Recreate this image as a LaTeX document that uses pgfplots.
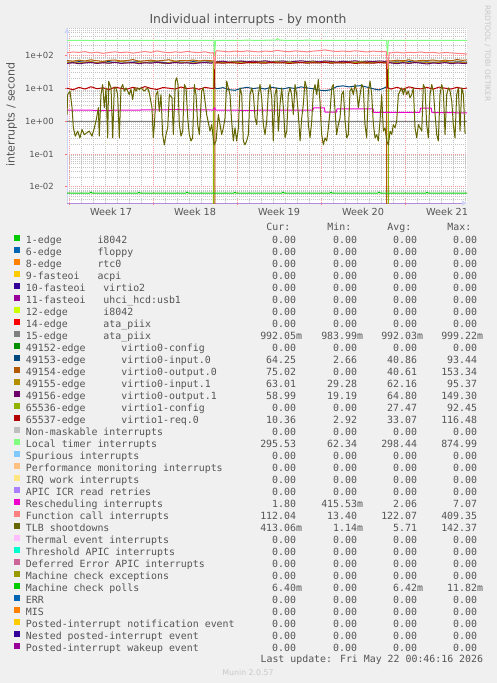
\documentclass[border=0pt]{standalone}
\usepackage{fontspec}
\setmainfont{DejaVu Sans}
\newfontfamily\monofont{DejaVu Sans Mono}
\usepackage{pgfplots}
\pgfplotsset{compat=1.18}
\usetikzlibrary{arrows.meta}
\definecolor{bgc}{HTML}{F0F0F0}
\definecolor{fontc}{HTML}{555555}
\definecolor{lightc}{HTML}{C8C8C8}
\definecolor{arrowc}{HTML}{CFD6F8}
\definecolor{axlin}{HTML}{B48CDC}
\definecolor{mgridc}{HTML}{FF9A9A}
\definecolor{gridc}{HTML}{C4C4C4}
\definecolor{tickc}{HTML}{FF7070}
\definecolor{c00}{HTML}{00CC00}
\definecolor{c01}{HTML}{0066B3}
\definecolor{c02}{HTML}{FF8000}
\definecolor{c03}{HTML}{FFCC00}
\definecolor{c04}{HTML}{330099}
\definecolor{c05}{HTML}{990099}
\definecolor{c06}{HTML}{CCFF00}
\definecolor{c07}{HTML}{FF0000}
\definecolor{c08}{HTML}{808080}
\definecolor{c09}{HTML}{008F00}
\definecolor{c10}{HTML}{00487D}
\definecolor{c11}{HTML}{B35A00}
\definecolor{c12}{HTML}{B38F00}
\definecolor{c13}{HTML}{6B006B}
\definecolor{c14}{HTML}{8FB300}
\definecolor{c15}{HTML}{B30000}
\definecolor{c16}{HTML}{BEBEBE}
\definecolor{c17}{HTML}{80FF80}
\definecolor{c18}{HTML}{80C9FF}
\definecolor{c19}{HTML}{FFC080}
\definecolor{c20}{HTML}{FFE680}
\definecolor{c21}{HTML}{AA80FF}
\definecolor{c22}{HTML}{EE00CC}
\definecolor{c23}{HTML}{FF8080}
\definecolor{c24}{HTML}{666600}
\definecolor{c25}{HTML}{FFBFFF}
\definecolor{c26}{HTML}{00FFCC}
\definecolor{c27}{HTML}{CC6699}
\definecolor{c28}{HTML}{999900}
\newcommand{\legfont}{\monofont\fontsize{9.9bp}{12bp}\selectfont}
\newcommand{\NS}{\hphantom{m}}
\newcommand{\Z}{0.00\NS}
\newcommand{\lrow}[5]{\makebox[200bp][l]{#1}\makebox[76bp][r]{#2}\makebox[61bp][r]{#3}\makebox[60bp][r]{#4}\makebox[60bp][r]{#5}}
\newcommand{\zrow}[1]{\lrow{#1}{\Z}{\Z}{\Z}{\Z}}
\begin{document}
\begin{tikzpicture}
\fill[bgc] (0bp,0bp) rectangle (497bp,683bp);
\node[anchor=base, font=\fontsize{12.4bp}{14bp}\selectfont, text=fontc, inner sep=0pt] at (248bp,659bp) {Individual interrupts - by month};
\node[rotate=90, font=\fontsize{11bp}{13bp}\selectfont, text=fontc, inner sep=0pt] at (11.5bp,568.5bp) {interrupts / second};
\node[rotate=-90, font=\fontsize{7.5bp}{9bp}\selectfont, text=lightc, inner sep=0pt] at (487.5bp,629.6bp) {RRDTOOL / TOBI OETIKER};
\begin{axis}[
  at={(67bp,480bp)}, anchor=south west,
  scale only axis, width=400bp, height=175bp,
  xmin=0, xmax=33.33, ymode=log, ymin=0.0032, ymax=700,
  axis lines=left,
  x axis line style={draw=axlin, line width=1bp, -{Triangle[length=5bp,width=5bp,color=arrowc]}},
  y axis line style={draw=arrowc, line width=1bp, -{Triangle[length=5bp,width=5bp]}},
  axis background/.style={fill=white},
  xtick={0.17,7.17,14.17,21.17,28.17}, xticklabels={,,,,},
  minor xtick={1.17,2.17,...,33.17},
  extra x ticks={3.67,10.67,17.67,24.67,31.67},
  extra x tick labels={Week 17,Week 18,Week 19,Week 20,Week 21},
  extra x tick style={grid=none, major tick length=0pt},
  ytick={0.01,0.1,1,10,100}, yticklabels={1e-02,1e-01,1e+00,1e+01,1e+02},
  minor ytick={0.004,0.005,0.006,0.007,0.008,0.009,0.02,0.03,0.04,0.05,0.06,0.07,0.08,0.09,0.2,0.3,0.4,0.5,0.6,0.7,0.8,0.9,2,3,4,5,6,7,8,9,20,30,40,50,60,70,80,90,200,300,400,500,600,700},
  grid=both,
  major grid style={dash pattern=on 1bp off 1bp, color=mgridc, line width=0.8bp},
  minor grid style={dash pattern=on 1bp off 1bp, color=gridc, line width=0.8bp},
  major tick length=2bp, minor tick length=0pt, tick align=outside,
  tick style={color=tickc, line width=0.8bp},
  tick label style={text=fontc, inner sep=0pt},
  xticklabel style={font=\fontsize{9.7bp}{11bp}\selectfont, anchor=base, yshift=-12.5bp},
  yticklabel style={font=\fontsize{8.5bp}{10bp}\selectfont, anchor=east, xshift=-11bp},
  no markers,
  every axis plot/.append style={line width=1bp, line join=round},
  legend image code/.code={\fill[#1,draw=none] (0bp,0bp) rectangle (6bp,6bp);},
  legend cell align=left,
  legend style={at={(0,0)}, anchor=north west, xshift=-53bp, yshift=-32.3bp,
    draw=none, fill=none, inner sep=0pt, outer sep=0pt, row sep=0pt,
    font=\legfont, text=fontc,
    /tikz/every odd column/.append style={column sep=6bp},
    nodes={inner sep=0pt, outer sep=0pt, text height=8bp, text depth=4bp}},
]
\addlegendimage{color=c00}\addlegendentry{\zrow{1-edge~~~~~~i8042}}
\addlegendimage{color=c01}\addlegendentry{\zrow{6-edge~~~~~~floppy}}
\addlegendimage{color=c02}\addlegendentry{\zrow{8-edge~~~~~~rtc0}}
\addlegendimage{color=c03}\addlegendentry{\zrow{9-fasteoi~~~acpi}}
\addlegendimage{color=c04}\addlegendentry{\zrow{10-fasteoi~~~virtio2}}
\addlegendimage{color=c05}\addlegendentry{\zrow{11-fasteoi~~~uhci\_hcd:usb1}}
\addlegendimage{color=c06}\addlegendentry{\zrow{12-edge~~~~~~i8042}}
\addlegendimage{color=c07}\addlegendentry{\zrow{14-edge~~~~~~ata\_piix}}
% 15-edge
\addplot[color=c08] coordinates {(0,0.992) (8,0.990) (16,0.993) (24,0.991) (33.33,0.992)};
\addlegendentry{\lrow{15-edge~~~~~~ata\_piix}{992.05m}{983.99m}{992.03m}{999.22m}}
\addlegendimage{color=c09}\addlegendentry{\zrow{49152-edge~~~~~~virtio0-config}}
% 49153 virtio0-input.0
\addplot[color=c10] coordinates {
(0,64) (0.5,62) (1,66) (1.5,63) (2,65) (2.5,61) (3,64) (3.5,66) (4,62) (4.5,65) (5,63) (5.5,64) (6,66) (6.5,62) (7,64) (7.5,65) (8,63) (8.5,61) (9,65) (9.5,64) (10,62) (10.5,66) (11,63) (11.5,64) (12,65) (12.25,64)
(12.3,10.5) (12.5,9.8) (13,10.6) (13.5,9.2) (14,8.8) (14.5,10.1) (15,10.8) (15.5,9.9) (16,10.5) (16.5,9.6) (17,10.9) (17.5,10.2) (18,9.7) (18.5,10.6) (19,10.0) (19.5,11.2) (20,10.4) (20.5,9.8) (21,8.9) (21.5,8.6) (22,9.2) (22.5,11.5) (23,12.0) (23.5,11.2) (24,11.8) (24.5,12.2) (25,11.0) (25.5,9.8) (26,9.0) (26.5,10.6) (26.65,11.5)
(26.72,64) (27,63) (27.5,65) (28,62) (28.5,66) (29,64) (29.5,63) (30,65) (30.5,62) (31,64) (31.5,66) (32,63) (32.5,65) (33,64) (33.33,64.25)};
\addlegendentry{\lrow{49153-edge~~~~~~virtio0-input.0}{64.25\NS}{2.66\NS}{40.86\NS}{93.44\NS}}
% 49154 virtio0-output.0
\addplot[color=c11] coordinates {
(0,71) (0.5,68) (1,73) (1.5,69) (2,75) (2.5,70) (3,67) (3.5,72) (4,74) (4.5,69) (5,71) (5.5,76) (6,68) (6.5,70) (7,73) (7.5,69) (8,72) (8.5,75) (9,68) (9.5,71) (10,70) (10.5,74) (11,69) (11.5,72) (12,70) (12.33,70)
(12.33,0.0001) (26.64,0.0001)
(26.64,72) (27,69) (27.5,73) (28,70) (28.5,75) (29,68) (29.5,72) (30,71) (30.5,74) (31,69) (31.5,73) (32,70) (32.5,76) (33,72) (33.33,75)};
\addlegendentry{\lrow{49154-edge~~~~~~virtio0-output.0}{75.02\NS}{\Z}{40.61\NS}{153.34\NS}}
% 49155 virtio0-input.1
\addplot[color=c12] coordinates {
(0,62) (0.5,65) (1,60) (1.5,63) (2,66) (2.5,61) (3,64) (3.5,59) (4,63) (4.5,67) (5,62) (5.5,60) (6,64) (6.5,61) (7,65) (7.5,63) (8,58) (8.5,62) (9,66) (9.5,61) (10,63) (10.5,60) (11,64) (11.5,62) (12,65)
(12.5,61) (13,64) (13.5,60) (14,63) (14.5,66) (15,62) (15.5,59) (16,63) (16.5,65) (17,61) (17.5,64) (18,62) (18.5,60) (19,65) (19.5,63) (20,61) (20.5,64) (21,62) (21.5,66) (22,60) (22.5,63) (23,65) (23.5,61) (24,64) (24.5,62) (25,59) (25.5,63) (26,65) (26.5,61)
(27,64) (27.5,62) (28,66) (28.5,60) (29,63) (29.5,65) (30,61) (30.5,64) (31,62) (31.5,67) (32,60) (32.5,64) (33,62) (33.33,63)};
\addlegendentry{\lrow{49155-edge~~~~~~virtio0-input.1}{63.01\NS}{29.28\NS}{62.16\NS}{95.37\NS}}
% 49156 virtio0-output.1
\addplot[color=c13] coordinates {
(0,58) (0.5,61) (1,57) (1.5,60) (2,62) (2.5,58) (3,61) (3.5,59) (4,63) (4.5,58) (5,60) (5.5,62) (6,57) (6.5,61) (7,59) (7.5,63) (8,60) (8.5,58) (9,62) (9.5,59) (10,61) (10.5,57) (11,60) (11.5,62) (12,59)
(12.5,66) (13,68) (13.5,64) (14,67) (14.5,69) (15,65) (15.5,68) (16,66) (16.5,70) (17,65) (17.5,67) (18,69) (18.5,64) (19,67) (19.5,70) (20,66) (20.5,68) (21,65) (21.5,69) (22,67) (22.5,64) (23,68) (23.5,66) (24,70) (24.5,65) (25,68) (25.5,66) (26,69) (26.5,67)
(27,60) (27.5,57) (28,61) (28.5,58) (29,62) (29.5,59) (30,56) (30.5,60) (31,58) (31.5,62) (32,57) (32.5,60) (33,58) (33.33,59)};
\addlegendentry{\lrow{49156-edge~~~~~~virtio0-output.1}{58.99\NS}{19.19\NS}{64.80\NS}{149.30\NS}}
% 65536 virtio1-config
\addplot[color=c14] coordinates {
(12.19,0.0001) (12.19,62) (12.5,64) (13,61) (13.5,63) (14,65) (14.5,60) (15,63) (15.5,62) (16,64) (16.5,61) (17,63) (17.5,65) (18,62) (18.5,64) (19,61) (19.5,63) (20,62) (20.5,65) (21,61) (21.5,64) (22,62) (22.5,63) (23,60) (23.5,64) (24,62) (24.5,65) (25,63) (25.5,61) (26,64) (26.5,62) (26.78,63) (26.78,0.0001)};
\addlegendentry{\lrow{65536-edge~~~~~~virtio1-config}{\Z}{\Z}{27.47\NS}{92.45\NS}}
% 65537 virtio1-req.0
\addplot[color=c15] coordinates {
(0,10.2) (0.5,9.1) (1,10.8) (1.5,9.6) (2,11.3) (2.5,9.8) (3,10.5) (3.5,9.2) (4,11.0) (4.5,10.1) (5,9.5) (5.5,10.9) (6,9.8) (6.5,11.4) (7,10.0) (7.5,9.3) (8,10.7) (8.5,10.2) (9,9.6) (9.5,11.1) (10,9.9) (10.5,10.4) (11,9.4) (11.5,10.8) (12,10.1) (12.25,10.0)
(12.3,60) (12.5,61) (13,59) (13.5,62) (14,60) (14.5,58) (15,61) (15.5,63) (16,60) (16.5,59) (17,62) (17.5,60) (18,61) (18.5,58) (19,60) (19.5,62) (20,59) (20.5,61) (21,60) (21.5,63) (22,59) (22.5,61) (23,60) (23.5,62) (24,58) (24.5,60) (25,61) (25.5,59) (26,62) (26.5,60) (26.65,60)
(26.72,10.5) (27,9.6) (27.5,10.9) (28,9.4) (28.5,11.2) (29,10.1) (29.5,9.7) (30,10.8) (30.5,9.5) (31,11.0) (31.5,10.2) (32,9.6) (32.5,10.9) (33,9.8) (33.33,10.36)};
\addlegendentry{\lrow{65537-edge~~~~~~virtio1-req.0}{10.36\NS}{2.92\NS}{33.07\NS}{116.48\NS}}
\addlegendimage{color=c16}\addlegendentry{\zrow{Non-maskable interrupts}}
% Local timer
\addplot[color=c17] coordinates {
(0,292) (1,294) (2,290) (3,293) (4,291) (5,295) (6,292) (7,294) (8,290) (9,293) (10,291) (11,294) (12,292) (12.25,292) (12.3,100) (12.38,290) (13,296) (14,293) (15,297) (16,294) (17,298) (17.4,300) (17.55,335) (17.7,300) (18,296) (19,293) (20,297) (21,294) (22,296) (23,293) (24,295) (25,292) (26,294) (26.62,293) (26.7,110) (26.78,291) (27,295) (28,292) (29,296) (30,293) (31,295) (32,292) (33,296) (33.33,295.5)};
\addlegendentry{\lrow{Local timer interrupts}{295.53\NS}{62.34\NS}{298.44\NS}{874.99\NS}}
\addlegendimage{color=c18}\addlegendentry{\zrow{Spurious interrupts}}
\addlegendimage{color=c19}\addlegendentry{\zrow{Performance monitoring interrupts}}
\addlegendimage{color=c20}\addlegendentry{\zrow{IRQ work interrupts}}
\addlegendimage{color=c21}\addlegendentry{\zrow{APIC ICR read retries}}
% Rescheduling
\addplot[color=c22] coordinates {
(0,2.2) (3,2.15) (6,2.2) (9,2.25) (12.2,2.2) (12.3,2.6) (12.4,2.2) (15,2.15) (18,2.2) (20.5,2.2) (20.55,2.55) (21.45,2.55) (21.5,1.9) (22.45,1.9) (22.5,2.4) (25.5,2.4) (25.55,1.88) (29.4,1.88) (29.45,2.5) (30.35,2.5) (30.4,1.85) (33.33,1.8)};
\addlegendentry{\lrow{Rescheduling interrupts}{1.80\NS}{415.53m}{2.06\NS}{7.07\NS}}
% Function call
\addplot[color=c23] coordinates {
(0,123) (0.5,130) (1,126) (1.5,133) (2,121) (2.5,128) (3,118) (3.5,125) (4,131) (4.5,124) (5,129) (5.5,120) (6,127) (6.5,134) (7,126) (7.5,140) (8,129) (8.5,123) (9,131) (9.5,126) (10,135) (10.5,128) (11,124) (11.5,132) (12,120) (12.2,125) (12.3,40) (12.4,135)
(12.5,142) (13,136) (13.5,131) (14,138) (14.5,133) (15,140) (15.5,135) (16,130) (16.5,139) (17,134) (17.5,145) (18,137) (18.5,132) (19,140) (19.5,136) (20,131) (20.5,138) (21,142) (21.5,150) (22,140) (22.5,134) (23,139) (23.5,133) (24,141) (24.5,136) (25,130) (25.5,138) (26,134) (26.6,132) (26.72,40) (26.85,125)
(27,122) (27.5,128) (28,121) (28.5,127) (29,124) (29.5,130) (30,123) (30.5,126) (31,120) (31.5,125) (32,122) (32.5,118) (33,115) (33.33,112)};
\addlegendentry{\lrow{Function call interrupts}{112.04\NS}{13.40\NS}{122.07\NS}{409.35\NS}}
% TLB shootdowns
\addplot[color=c24] coordinates {
(0,1.6) (0.06,6.5) (0.25,8.3) (0.42,2.6) (0.53,0.63) (0.69,0.35) (0.89,0.50) (1.08,0.31) (1.25,0.56) (1.44,0.39) (1.64,0.44) (1.86,0.50) (2.08,0.35) (2.28,0.63) (2.47,1.27) (2.61,2.6) (2.69,0.35) (2.83,6.5) (2.97,13.2) (3.11,2.6) (3.25,10.4) (3.39,0.31) (3.47,16.7) (3.67,10.4) (3.81,0.31) (3.94,10.4) (4.08,10.4) (4.22,6.5) (4.36,0.31) (4.50,10.4) (4.64,13.2) (4.78,8.3) (4.92,10.4) (5.06,8.3) (5.19,6.5) (5.33,9.3) (5.47,4.6) (5.61,10.4) (5.75,8.3) (5.89,10.4) (6.03,9.3) (6.17,10.4) (6.44,8.3) (6.58,9.3) (6.72,10.4) (6.86,7.3) (7.08,2.6) (7.19,0.31) (7.28,0.79) (7.42,6.5) (7.56,8.3) (7.69,2.0) (7.83,6.5) (7.97,0.39) (8.11,0.19) (8.25,0.39) (8.39,0.63) (8.53,6.5) (8.75,5.2) (8.86,0.39) (9.03,16.7) (9.14,21.1) (9.25,13.2) (9.36,0.79) (9.50,0.35) (9.64,0.50) (9.78,13.2) (9.92,10.4) (10.06,1.27) (10.19,0.39) (10.33,0.25) (10.47,0.31) (10.61,13.2) (10.75,6.5) (10.89,0.79) (11.03,0.39)
(11.22,8.3) (11.36,10.4) (11.64,1.6) (11.92,0.50) (12.06,0.79) (12.25,0.19) (12.42,0.25) (12.61,1.6) (12.75,0.79) (12.89,0.39) (13.03,0.63) (13.17,1.27) (13.31,16.7) (13.44,10.4) (13.58,6.5) (13.72,1.0) (13.86,0.25) (14.00,0.63) (14.14,0.25) (14.28,0.63) (14.42,10.4) (14.56,6.5) (14.69,0.25) (14.83,0.19) (14.97,0.25) (15.11,0.39) (15.25,6.5) (15.39,10.4) (15.53,6.5) (15.67,1.27) (15.81,0.79) (15.94,6.5) (16.08,13.2) (16.22,5.2) (16.36,0.79) (16.50,0.39) (16.64,1.0) (16.78,8.3) (16.92,13.2) (17.06,5.2) (17.19,0.25) (17.33,6.5) (17.47,10.4) (17.61,0.50) (17.75,3.2) (17.89,10.4) (18.03,2.6) (18.17,0.31) (18.31,0.50) (18.44,6.5) (18.58,10.4) (18.72,6.5) (18.86,1.6) (19.00,13.2) (19.14,6.5) (19.28,1.6) (19.42,0.25) (19.56,1.27) (19.69,3.2) (19.83,16.7) (19.97,10.4) (20.11,0.79) (20.25,0.31) (20.39,1.0) (20.53,8.3) (20.67,13.2) (20.81,6.5) (20.94,18.8) (21.08,4.1) (21.22,0.39) (21.36,0.19) (21.50,0.31) (21.64,0.25) (21.78,0.63) (21.92,2.0) (22.06,10.4) (22.19,13.2)
(22.47,0.39) (22.61,0.79) (22.75,1.27) (22.89,6.5) (23.03,8.3) (23.17,1.0) (23.31,0.31) (23.44,0.39) (23.58,8.3) (23.72,10.4) (23.86,6.5) (24.00,13.2) (24.14,8.3) (24.28,2.6) (24.42,6.5) (24.56,13.2) (24.69,10.4) (24.83,0.79) (24.97,0.31) (25.11,8.3) (25.25,16.7) (25.39,6.5) (25.53,0.79) (25.67,0.31) (25.81,0.39) (25.94,0.25) (26.08,1.0) (26.22,6.5) (26.36,0.50) (26.50,0.63) (26.64,0.25) (26.78,0.19) (26.92,0.50) (27.06,0.39) (27.19,0.79) (27.33,0.63) (27.47,1.0) (27.61,6.5) (27.75,8.3) (27.89,10.4) (28.03,6.5) (28.17,10.4) (28.31,6.5) (28.44,8.3) (28.58,5.2) (28.72,6.5) (28.86,10.4) (29.00,0.63) (29.14,0.31) (29.28,0.79) (29.42,0.63) (29.56,0.50) (29.69,13.2) (29.83,10.4) (29.97,0.79) (30.11,0.31) (30.25,6.5) (30.39,13.2) (30.53,8.3) (30.67,1.6) (30.81,0.39) (30.94,0.25) (31.08,6.5) (31.22,13.2) (31.36,8.3) (31.50,0.39) (31.64,6.5) (31.78,10.4) (31.92,8.3) (32.06,4.1) (32.19,0.79) (32.33,0.31) (32.47,6.5) (32.61,10.4) (32.75,0.50) (32.89,10.4) (33.03,6.5) (33.17,0.41)};
\addlegendentry{\lrow{TLB shootdowns}{413.06m}{1.14m}{5.71\NS}{142.37\NS}}
\addlegendimage{color=c25}\addlegendentry{\zrow{Thermal event interrupts}}
\addlegendimage{color=c26}\addlegendentry{\zrow{Threshold APIC interrupts}}
\addlegendimage{color=c27}\addlegendentry{\zrow{Deferred Error APIC interrupts}}
\addlegendimage{color=c28}\addlegendentry{\zrow{Machine check exceptions}}
% Machine check polls
\addplot[color=c00] coordinates {
(0,0.0064) (1.9,0.0064) (2,0.0069) (2.1,0.0064) (5.9,0.0064) (6,0.0068) (6.1,0.0064) (9.9,0.0064) (10,0.0069) (10.1,0.0064) (13.9,0.0064) (14,0.0068) (14.1,0.0064) (17.9,0.0064) (18,0.0069) (18.1,0.0064) (21.9,0.0064) (22,0.0068) (22.1,0.0064) (25.9,0.0064) (26,0.0069) (26.1,0.0064) (29.9,0.0064) (30,0.0068) (30.1,0.0064) (33.33,0.0064)};
\addlegendentry{\lrow{Machine check polls}{6.40m}{\Z}{6.42m}{11.82m}}
\addlegendimage{color=c01}\addlegendentry{\zrow{ERR}}
\addlegendimage{color=c02}\addlegendentry{\zrow{MIS}}
\addlegendimage{color=c03}\addlegendentry{\zrow{Posted-interrupt notification event}}
\addlegendimage{color=c04}\addlegendentry{\zrow{Nested posted-interrupt event}}
\addlegendimage{color=c05}\addlegendentry{\zrow{Posted-interrupt wakeup event}}
\end{axis}
\node[anchor=base west, font=\legfont, text=fontc, inner sep=0pt] at (26bp,452bp) {\lrow{}{Cur:\NS\NS}{Min:\NS\NS}{Avg:\NS\NS}{Max:\NS\NS}};
\node[anchor=base east, font=\legfont, text=fontc, inner sep=0pt] at (483.3bp,20.5bp) {Last update: Fri May 22 00:46:16 2026};
\node[anchor=base, font=\fontsize{7.8bp}{9bp}\selectfont, text=lightc, inner sep=0pt] at (248bp,8bp) {Munin 2.0.57};
\end{tikzpicture}
\end{document}
